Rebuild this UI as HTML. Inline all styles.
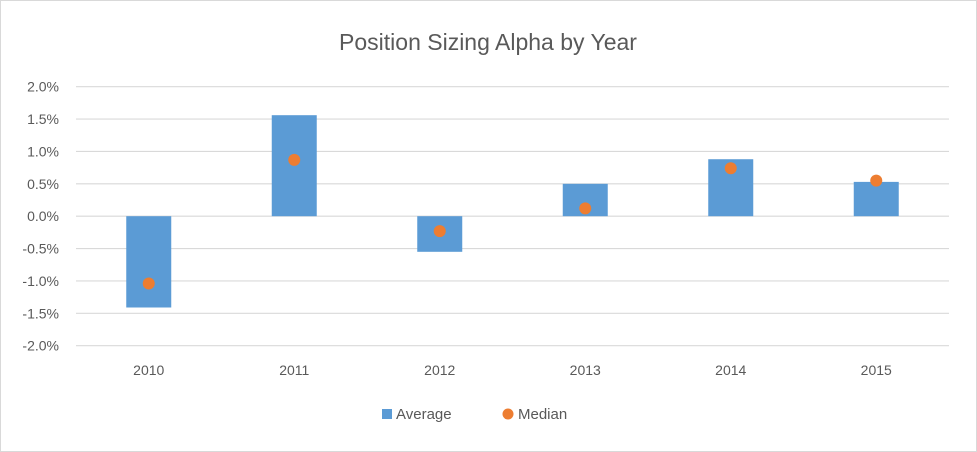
<!DOCTYPE html>
<html><head><meta charset="utf-8"><style>
body{margin:0;background:#fff;}
svg{display:block;font-family:"Liberation Sans",sans-serif;}
</style></head><body>
<svg id="chart" width="977" height="452">
<rect x="0.5" y="0.5" width="976" height="451" fill="#fff" stroke="#d9d9d9"/>
<text x="488" y="50" text-anchor="middle" font-size="23" fill="#595959">Position Sizing Alpha by Year</text>
<g id="grid"></g><g id="bars"></g><g id="dots"></g><g id="xl"></g>
<g>
<rect x="382" y="409" width="10" height="10" fill="#5b9bd5"/>
<text x="396" y="419" font-size="15" fill="#595959">Average</text>
<circle cx="508" cy="414" r="5.5" fill="#ed7d31"/>
<text x="518" y="419" font-size="15" fill="#595959">Median</text>
</g>
</svg>
<script>
const categories=["2010","2011","2012","2013","2014","2015"];
const averageValues=[-1.41,1.56,-0.55,0.50,0.88,0.53];
const medianValues=[-1.04,0.87,-0.23,0.12,0.74,0.55];
const tickValues=[2.0,1.5,1.0,0.5,0.0,-0.5,-1.0,-1.5,-2.0];
const NS="http://www.w3.org/2000/svg";
const x0=76,x1=949,yTop=86.7,yBot=345.7,vMax=2,vMin=-2;
const y=v=>yTop+(vMax-v)/(vMax-vMin)*(yBot-yTop);
const bw=(x1-x0)/categories.length;
const xc=i=>x0+bw*(i+0.5);
function mk(t,a,p){const e=document.createElementNS(NS,t);for(const k in a)e.setAttribute(k,a[k]);p.appendChild(e);return e;}
const grid=document.getElementById('grid');
tickValues.forEach(v=>{
 const l=mk('line',{x1:x0,x2:x1,y1:y(v),y2:y(v),stroke:'#d9d9d9','stroke-width':1.2},grid);
 
 
 const t=mk('text',{x:59,y:y(v)+5,'text-anchor':'end','font-size':14,fill:'#595959'},grid);
 t.textContent=v.toFixed(1)+'%';
 
 
});
const bars=document.getElementById('bars'),dots=document.getElementById('dots'),xl=document.getElementById('xl');
categories.forEach((c,i)=>{
 const v=averageValues[i];
 const r=mk('rect',{x:xc(i)-22.5,width:45,y:Math.min(y(v),y(0)),height:Math.abs(y(v)-y(0)),fill:'#5b9bd5'},bars);
 
 
 const d=mk('circle',{cx:xc(i),cy:y(medianValues[i]),r:6,fill:'#ed7d31'},dots);
 
 
 const t=mk('text',{x:xc(i),y:375,'text-anchor':'middle','font-size':14,fill:'#595959'},xl);
 t.textContent=c;
 
 
});
</script>
</body></html>
